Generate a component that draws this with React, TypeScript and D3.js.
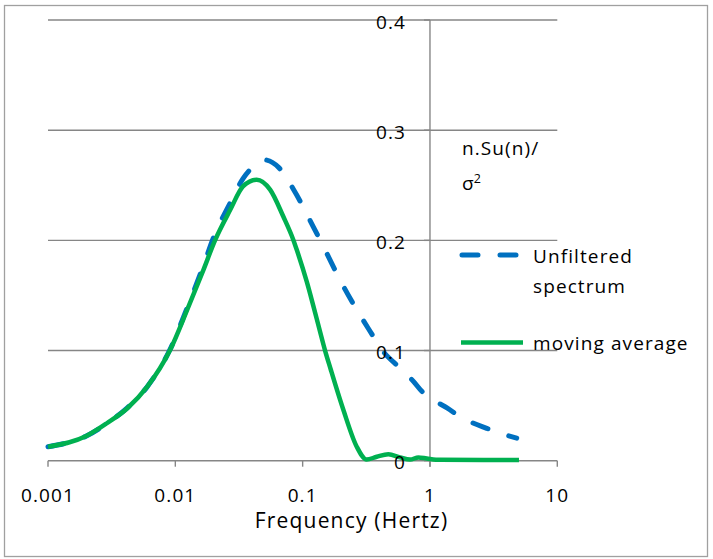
import React from "react";
import * as d3 from "d3";

// Unfiltered spectrum (frequency in Hz, n.Su(n)/sigma^2)
const unfilteredFreq = [0.001, 0.002, 0.003, 0.004, 0.006, 0.009, 0.0125, 0.0165, 0.02, 0.027, 0.034, 0.042, 0.05, 0.065, 0.085, 0.121, 0.155, 0.203, 0.266, 0.328, 0.43, 0.582, 0.741, 0.863, 1.1, 1.36, 1.72, 2.06, 2.79, 3.45, 4.8];
const unfilteredVal = [0.0127, 0.0224, 0.035, 0.046, 0.067, 0.1, 0.14, 0.176, 0.203, 0.234, 0.256, 0.268, 0.273, 0.266, 0.246, 0.2125, 0.188, 0.161, 0.137, 0.12, 0.099, 0.084, 0.072, 0.063, 0.054, 0.048, 0.04, 0.0354, 0.0294, 0.0254, 0.0205];

// Moving average
const movingFreq = [0.001, 0.002, 0.0029, 0.0042, 0.006, 0.0091, 0.0125, 0.0166, 0.0205, 0.027, 0.034, 0.0436, 0.0555, 0.0705, 0.0845, 0.0899, 0.108, 0.121, 0.135, 0.15, 0.166, 0.209, 0.266, 0.318, 0.382, 0.471, 0.582, 0.698, 0.811, 0.944, 1.2, 5.0];
const movingVal = [0.0127, 0.0224, 0.034, 0.0476, 0.067, 0.1005, 0.138, 0.173, 0.2, 0.2277, 0.249, 0.255, 0.246, 0.2216, 0.2004, 0.1914, 0.162, 0.141, 0.12, 0.1, 0.083, 0.046, 0.0127, 0.001, 0.0036, 0.0058, 0.003, 0.001, 0.003, 0.002, 0.0008, 0.0006];

const xTicks = [0.001, 0.01, 0.1, 1, 10];
const xTickLabels = ["0.001", "0.01", "0.1", "1", "10"];
const yTicks = [0, 0.1, 0.2, 0.3, 0.4];
const yTickLabels = ["0", "0.1", "0.2", "0.3", "0.4"];

const seriesNames = ["Unfiltered", "spectrum", "moving average"];

export default function App() {
  const x = d3.scaleLog().domain([0.001, 10]).range([48, 557.3]);
  const y = d3.scaleLinear().domain([0, 0.4]).range([460.7, 20]);
  const line = d3
    .line<[number, number]>()
    .x((d) => x(d[0]))
    .y((d) => y(d[1]))
    .curve(d3.curveMonotoneX);
  const blueData = unfilteredFreq.map((f, i) => [f, unfilteredVal[i]] as [number, number]);
  const greenData = movingFreq.map((f, i) => [f, movingVal[i]] as [number, number]);
  const grid = "#868686";
  const font = "'Open Sans', sans-serif";
  const textCol = "#000";
  const blue = "#0070C0";
  const green = "#00B050";
  const axisX = x(1);
  const [x0, x1] = x.range();
  const ls = { letterSpacing: "1.1px" };
  return (
    <svg
      width={713}
      height={559}
      style={{ position: "absolute", left: 0, top: 0, background: "#fff" }}
      fontFamily={font}
    >
      <rect x={4.5} y={5.5} width={703} height={551} fill="#fff" stroke="#a0a0a0" strokeWidth={1.3} />
      {yTicks.map((t) => (
        <line key={"g" + t} x1={x0} x2={x1} y1={y(t)} y2={y(t)} stroke={grid} strokeWidth={1.4} />
      ))}
      {yTicks.map((t) => (
        <line key={"yt" + t} x1={axisX - 6} x2={axisX} y1={y(t)} y2={y(t)} stroke={grid} strokeWidth={1.4} />
      ))}
      <line x1={axisX} x2={axisX} y1={y(0.4)} y2={y(0) + 6} stroke={grid} strokeWidth={1.4} />
      {xTicks.map((t) => (
        <line key={"xt" + t} x1={x(t)} x2={x(t)} y1={y(0)} y2={y(0) + 6} stroke={grid} strokeWidth={1.4} />
      ))}
      <path
        d={line(blueData) || ""}
        fill="none"
        stroke={blue}
        strokeWidth={5}
        strokeDasharray="16 22"
        strokeLinecap="round"
      />
      <path d={line(greenData) || ""} fill="none" stroke={green} strokeWidth={4.5} strokeLinejoin="round" />
      {yTicks.map((t, i) => (
        <text key={"yl" + t} x={406} y={y(t) + 8.5} textAnchor="end" fontSize={19} fill={textCol} style={ls}>
          {yTickLabels[i]}
        </text>
      ))}
      {xTicks.map((t, i) => (
        <text key={"xl" + t} x={x(t)} y={502} textAnchor="middle" fontSize={19} fill={textCol} style={ls}>
          {xTickLabels[i]}
        </text>
      ))}
      <text x={351.5} y={528} textAnchor="middle" fontSize={21} fill={textCol} style={{ letterSpacing: "1.2px" }}>
        Frequency (Hertz)
      </text>
      <text x={462} y={155} fontSize={19} fill={textCol} style={ls}>
        n.Su(n)/
      </text>
      <text x={462} y={190} fontSize={19} fill={textCol}>
        σ<tspan fontSize={12.5} dy={-7}>2</tspan>
      </text>
      <line x1={462} x2={520} y1={255} y2={255} stroke={blue} strokeWidth={5} strokeDasharray="16 22" strokeLinecap="round" />
      <text x={533} y={263} fontSize={19} fill={textCol} style={ls}>
        {seriesNames[0]}
      </text>
      <text x={533} y={293} fontSize={19} fill={textCol} style={ls}>
        {seriesNames[1]}
      </text>
      <line x1={461} x2={523} y1={342.5} y2={342.5} stroke={green} strokeWidth={4.5} />
      <text x={533} y={350} fontSize={19} fill={textCol} style={ls}>
        {seriesNames[2]}
      </text>
    </svg>
  );
}
